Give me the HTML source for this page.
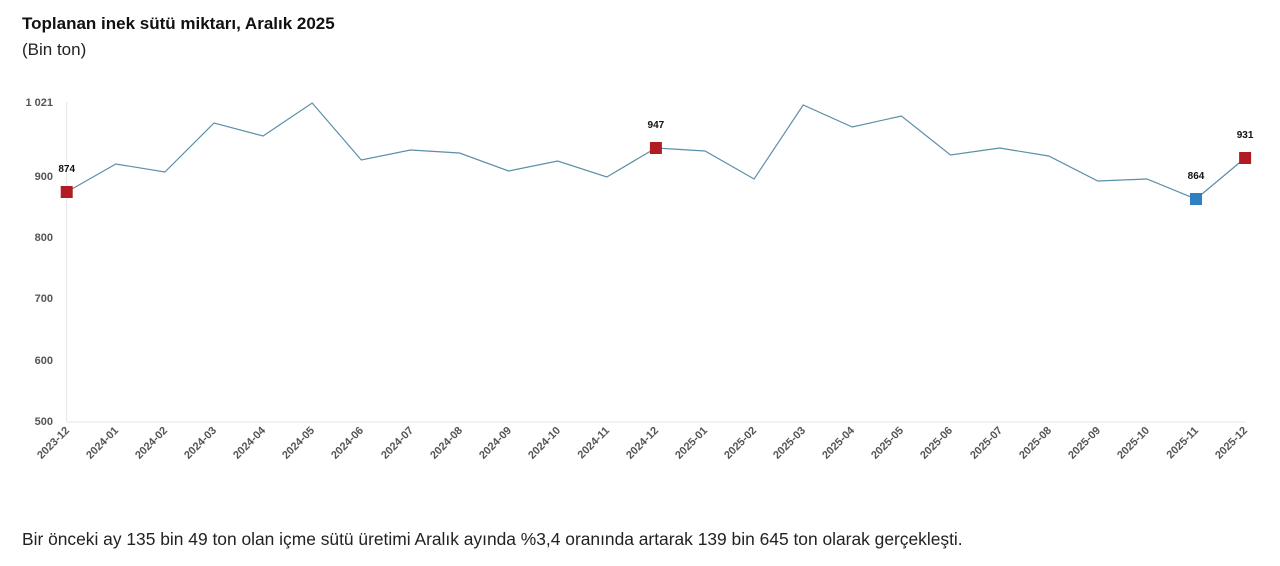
<!DOCTYPE html>
<html><head><meta charset="utf-8"><style>
body{margin:0;background:#fff;width:1280px;height:566px;overflow:hidden;font-family:"Liberation Sans",sans-serif;}
.t{position:absolute;left:22px;top:14px;font-size:17px;font-weight:bold;color:#111;}
.s{position:absolute;left:22px;top:40px;font-size:17px;color:#222;}
.f{position:absolute;left:22px;top:529px;font-size:17.4px;color:#222;}
svg{position:absolute;left:0;top:0;}
</style></head><body>
<div class="t">Toplanan inek sütü miktarı, Aralık 2025</div>
<div class="s">(Bin ton)</div>
<svg width="1280" height="566" font-family="Liberation Sans, sans-serif">
<line x1="66.7" y1="102" x2="66.7" y2="422" stroke="#e6e6e6"/>
<line x1="66.7" y1="422" x2="1246" y2="422" stroke="#e6e6e6"/>
<g font-size="11" font-weight="bold" fill="#555" text-anchor="end">
<text x="53" y="106">1 021</text>
<text x="53" y="180">900</text>
<text x="53" y="241">800</text>
<text x="53" y="302">700</text>
<text x="53" y="364">600</text>
<text x="53" y="425">500</text>
</g>
<polyline fill="none" stroke="#5b8fa8" stroke-width="1.2" points="66.7,192 115.8,164 164.9,172 214,123 263.1,136 312.2,103 361.3,160 410.4,150 459.5,153 508.6,171 557.7,161 606.8,177 655.9,148 705,151 754.1,179 803.2,105 852.3,127 901.4,116 950.5,155 999.6,148 1048.7,156 1097.8,181 1146.9,179 1196,199 1245.1,158"/>
<rect x="60.7" y="186" width="12" height="12" fill="#b01c22"/>
<rect x="649.9" y="142" width="12" height="12" fill="#b01c22"/>
<rect x="1190" y="193" width="12" height="12" fill="#2f7fc1"/>
<rect x="1239.1" y="152" width="12" height="12" fill="#b01c22"/>
<g font-size="10" font-weight="bold" fill="#111" text-anchor="middle">
<text x="66.7" y="172">874</text>
<text x="655.9" y="128">947</text>
<text x="1196" y="179">864</text>
<text x="1245.1" y="138">931</text>
</g>
<g font-size="11" font-weight="bold" fill="#555" text-anchor="end">
<text transform="translate(70,431) rotate(-45)">2023-12</text>
<text transform="translate(119,431) rotate(-45)">2024-01</text>
<text transform="translate(168,431) rotate(-45)">2024-02</text>
<text transform="translate(217,431) rotate(-45)">2024-03</text>
<text transform="translate(266,431) rotate(-45)">2024-04</text>
<text transform="translate(315,431) rotate(-45)">2024-05</text>
<text transform="translate(364,431) rotate(-45)">2024-06</text>
<text transform="translate(414,431) rotate(-45)">2024-07</text>
<text transform="translate(463,431) rotate(-45)">2024-08</text>
<text transform="translate(512,431) rotate(-45)">2024-09</text>
<text transform="translate(561,431) rotate(-45)">2024-10</text>
<text transform="translate(610,431) rotate(-45)">2024-11</text>
<text transform="translate(659,431) rotate(-45)">2024-12</text>
<text transform="translate(708,431) rotate(-45)">2025-01</text>
<text transform="translate(757,431) rotate(-45)">2025-02</text>
<text transform="translate(806,431) rotate(-45)">2025-03</text>
<text transform="translate(855,431) rotate(-45)">2025-04</text>
<text transform="translate(904,431) rotate(-45)">2025-05</text>
<text transform="translate(953,431) rotate(-45)">2025-06</text>
<text transform="translate(1003,431) rotate(-45)">2025-07</text>
<text transform="translate(1052,431) rotate(-45)">2025-08</text>
<text transform="translate(1101,431) rotate(-45)">2025-09</text>
<text transform="translate(1150,431) rotate(-45)">2025-10</text>
<text transform="translate(1199,431) rotate(-45)">2025-11</text>
<text transform="translate(1248,431) rotate(-45)">2025-12</text>
</g>
</svg>
<div class="f">Bir önceki ay 135 bin 49 ton olan içme sütü üretimi Aralık ayında %3,4 oranında artarak 139 bin 645 ton olarak gerçekleşti.</div>
</body></html>
